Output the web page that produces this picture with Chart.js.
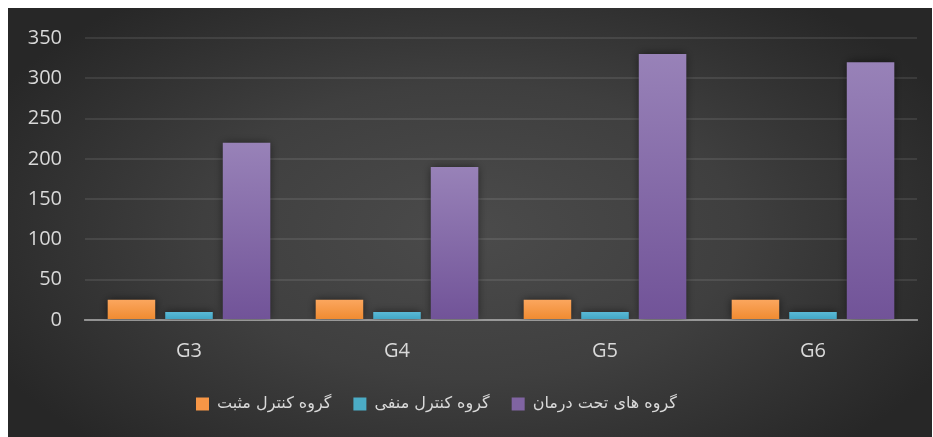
<!DOCTYPE html>
<html>
<head>
<meta charset="utf-8">
<script src="https://cdn.jsdelivr.net/npm/chart.js@4.4.1/dist/chart.umd.min.js"></script>
<style>
  html, body { margin: 0; padding: 0; background: #ffffff; }
  #wrap { position: absolute; left: 8px; top: 8px; width: 924px; height: 429px; }
  canvas { display: block; }
</style>
</head>
<body>
<div id="wrap"><canvas id="c" width="924" height="429"></canvas></div>
<script>
const categories = ['G3', 'G4', 'G5', 'G6'];
const seriesNames = ['گروه کنترل مثبت', 'گروه کنترل منفی', 'گروه های تحت درمان'];
const positiveControl = [25, 25, 25, 25];
const negativeControl = [10, 10, 10, 10];
const treatedGroups = [220, 190, 330, 320];
const yTicks = [0, 50, 100, 150, 200, 250, 300, 350];

const palettes = [
  { top: '#fba65e', bottom: '#ef8a2f', solid: '#f79646' },
  { top: '#5ab9d6', bottom: '#3fa4c3', solid: '#4bacc6' },
  { top: '#9882b8', bottom: '#715398', solid: '#8064a2' }
];

function barGradient(idx) {
  return function (ctx) {
    const chart = ctx.chart;
    const p = palettes[idx];
    if (!chart.chartArea || ctx.type !== 'data' || ctx.parsed == null) return p.solid;
    const ys = chart.scales.y;
    const top = ys.getPixelForValue(ctx.parsed.y);
    const base = ys.getPixelForValue(0);
    if (!isFinite(top) || !isFinite(base) || Math.abs(base - top) < 1) return p.solid;
    const g = chart.ctx.createLinearGradient(0, top, 0, base);
    g.addColorStop(0, p.top);
    g.addColorStop(1, p.bottom);
    return g;
  };
}

const bgPlugin = {
  id: 'bg',
  beforeDraw(chart) {
    const c = chart.ctx;
    const w = chart.width, h = chart.height;
    c.save();
    c.fillStyle = '#282828';
    c.fillRect(0, 0, w, h);
    c.translate(w * 0.5, h * 0.52);
    c.scale(1.0, 0.55);
    const g = c.createRadialGradient(0, 0, 0, 0, 0, w * 0.58);
    g.addColorStop(0, '#4b4b4b');
    g.addColorStop(0.5, '#3f3f3f');
    g.addColorStop(1, '#272727');
    c.fillStyle = g;
    c.fillRect(-w, -h * 2, w * 2, h * 4);
    c.restore();
  }
};

const shadowPlugin = {
  id: 'barShadow',
  beforeDatasetsDraw(chart) {
    const c = chart.ctx;
    c.save();
    c.shadowColor = 'rgba(0,0,0,0.55)';
    c.shadowBlur = 9;
    c.shadowOffsetX = 0;
    c.shadowOffsetY = 0;
  },
  afterDatasetsDraw(chart) {
    chart.ctx.restore();
  }
};

const LEGEND_PAD = 22;
const legendShift = {
  id: 'legendShift',
  afterLayout(chart) {
    if (chart.legend) {
      const w = chart.legend.right - chart.legend.left;
      chart.legend.left = 188 - LEGEND_PAD;
      chart.legend.right = chart.legend.left + w;
    }
  }
};

const dataSets = [positiveControl, negativeControl, treatedGroups].map((arr, i) => ({
  label: seriesNames[i],
  data: arr,
  backgroundColor: barGradient(i),
  borderWidth: 0,
  barPercentage: 0.826,
  categoryPercentage: 0.83
}));

new Chart(document.getElementById('c'), {
  type: 'bar',
  data: { labels: categories, datasets: dataSets },
  plugins: [bgPlugin, shadowPlugin, legendShift],
  options: {
    responsive: false,
    animation: false,
    devicePixelRatio: 1,
    layout: { padding: { left: 0, right: 15, top: 30, bottom: 15 } },
    plugins: {
      tooltip: { enabled: false },
      legend: {
        position: 'bottom',
        align: 'start',
        labels: {
          color: '#d9d9d9',
          font: { family: "'DejaVu Sans', 'Noto Sans', sans-serif", size: 16 },
          boxWidth: 13,
          boxHeight: 13,
          padding: LEGEND_PAD,
          generateLabels(chart) {
            return chart.data.datasets.map((ds, i) => ({
              text: ds.label,
              fillStyle: palettes[i].solid,
              strokeStyle: palettes[i].solid,
              lineWidth: 0,
              hidden: false,
              datasetIndex: i,
              fontColor: '#d9d9d9'
            }));
          }
        }
      }
    },
    scales: {
      x: {
        z: 1,
        grid: { display: false, drawTicks: false },
        border: { display: true, color: 'rgba(200,200,200,0.6)', width: 2 },
        ticks: {
          color: '#d9d9d9',
          font: { family: "'Open Sans', sans-serif", size: 20 },
          padding: 19
        },
        afterFit(scale) { scale.height = 54; }
      },
      y: {
        min: 0,
        max: 350,
        afterBuildTicks(scale) { scale.ticks = yTicks.map(v => ({ value: v })); },
        grid: { color: 'rgba(255,255,255,0.09)', lineWidth: 2, drawTicks: true, tickLength: 23, tickColor: 'rgba(0,0,0,0)' },
        border: { display: false },
        ticks: {
          color: '#d9d9d9',
          font: { family: "'Open Sans', sans-serif", size: 20 },
          padding: 0
        },
        afterFit(scale) { scale.width = 77; }
      }
    }
  }
});
</script>
</body>
</html>
